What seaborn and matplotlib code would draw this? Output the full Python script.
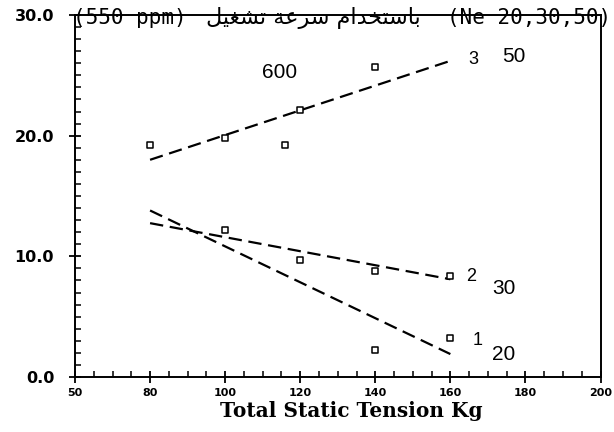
import numpy as np
import pandas as pd
import matplotlib
matplotlib.use("Agg")
import matplotlib.pyplot as plt
import seaborn as sns
from matplotlib.ticker import MultipleLocator, FixedLocator, FixedFormatter

# ---------------- data ----------------
# measured points (x = total static tension, y = value)
s3_x = [80, 100, 116, 120, 140]
s3_y = [19.2, 19.8, 19.2, 22.1, 25.7]
s2_x = [100, 120, 140, 160]
s2_y = [12.2, 9.7, 8.75, 8.4]
s1_x = [140, 160]
s1_y = [2.25, 3.2]

# trend lines (end points)
fit_x = [80, 160]
fit3_y = [18.0, 26.2]
fit2_y = [12.75, 8.1]
fit1_y = [13.8, 1.9]

curve_ids = ["3", "2", "1"]
curve_ne = ["50", "30", "20"]

x_tick_pos = [60, 80, 100, 120, 140, 160, 180, 200]
x_tick_labels = ["50", "80", "100", "120", "140", "160", "180", "200"]
y_tick_pos = [0, 10, 20, 30]
y_tick_labels = ["0.0", "10.0", "20.0", "30.0"]

x_label = "Total Static Tension Kg"
title_left = "(550 ppm)"
title_right = "(Ne 20,30,50)"
title_arabic_words = ["باستخدام", "سرعة", "تشغيل"]
speed_label = "600"

# ---------------- arabic shaping (matplotlib has no bidi/shaping engine) ----------------
AR_FORMS = {
    'ا': ('\uFE8D', '\uFE8E', None, None),
    'ب': ('\uFE8F', '\uFE90', '\uFE91', '\uFE92'),
    'ة': ('\uFE93', '\uFE94', None, None),
    'ت': ('\uFE95', '\uFE96', '\uFE97', '\uFE98'),
    'خ': ('\uFEA5', '\uFEA6', '\uFEA7', '\uFEA8'),
    'د': ('\uFEA9', '\uFEAA', None, None),
    'ر': ('\uFEAD', '\uFEAE', None, None),
    'س': ('\uFEB1', '\uFEB2', '\uFEB3', '\uFEB4'),
    'ش': ('\uFEB5', '\uFEB6', '\uFEB7', '\uFEB8'),
    'ع': ('\uFEC9', '\uFECA', '\uFECB', '\uFECC'),
    'غ': ('\uFECD', '\uFECE', '\uFECF', '\uFED0'),
    'ل': ('\uFEDD', '\uFEDE', '\uFEDF', '\uFEE0'),
    'م': ('\uFEE1', '\uFEE2', '\uFEE3', '\uFEE4'),
    'ي': ('\uFEF1', '\uFEF2', '\uFEF3', '\uFEF4'),
}


def shape(word):
    out = []
    for i, c in enumerate(word):
        f = AR_FORMS.get(c)
        if f is None:
            out.append(c)
            continue
        prev = word[i - 1] if i > 0 else None
        nxt = word[i + 1] if i + 1 < len(word) else None
        jp = prev is not None and prev in AR_FORMS and AR_FORMS[prev][2] is not None
        jn = nxt is not None and nxt in AR_FORMS and f[2] is not None
        if jp and jn:
            g = f[3]
        elif jp:
            g = f[1]
        elif jn:
            g = f[2]
        else:
            g = f[0]
        out.append(g)
    return "".join(reversed(out))


arabic_visual = " ".join(shape(w) for w in reversed(title_arabic_words))

# ---------------- frames ----------------
pts = pd.DataFrame({
    "x": s3_x + s2_x + s1_x,
    "y": s3_y + s2_y + s1_y,
    "curve": ["3"] * len(s3_x) + ["2"] * len(s2_x) + ["1"] * len(s1_x),
})
fits = pd.DataFrame({
    "x": fit_x * 3,
    "y": fit3_y + fit2_y + fit1_y,
    "curve": ["3"] * 2 + ["2"] * 2 + ["1"] * 2,
})

# ---------------- plot ----------------
sns.set_theme(style="ticks")
plt.rcParams["font.family"] = ["DejaVu Sans"]

W, H = 614, 432
fig = plt.figure(figsize=(W / 100, H / 100), dpi=100)
ax = fig.add_axes([75 / W, 1 - 377 / H, (600.5 - 75) / W, (377 - 15) / H])

sns.lineplot(data=fits, x="x", y="y", units="curve", estimator=None,
             color="black", lw=1.6, ax=ax, legend=False,
             linestyle=(0, (6, 3)))
sns.scatterplot(data=pts, x="x", y="y", marker="s", s=18,
                facecolor="white", edgecolor="black", linewidth=1.1,
                ax=ax, legend=False, zorder=3)

ax.set_xlim(60, 200)
ax.set_ylim(0, 30)

ax.xaxis.set_major_locator(FixedLocator(x_tick_pos))
ax.xaxis.set_major_formatter(FixedFormatter(x_tick_labels))
ax.xaxis.set_minor_locator(MultipleLocator(5))
ax.yaxis.set_major_locator(FixedLocator(y_tick_pos))
ax.yaxis.set_major_formatter(FixedFormatter(y_tick_labels))
ax.yaxis.set_minor_locator(MultipleLocator(1))

ax.tick_params(axis="both", which="major", direction="inout", length=8,
               width=1.3, color="black")
ax.tick_params(axis="both", which="minor", direction="in", length=4.5,
               width=1.1, color="black")
ax.tick_params(axis="x", which="major", labelsize=8, pad=4)
ax.tick_params(axis="y", which="major", labelsize=11.5, pad=11)
for lab in ax.get_xticklabels() + ax.get_yticklabels():
    lab.set_fontweight("bold")
    lab.set_color("black")

for sp in ax.spines.values():
    sp.set_visible(True)
    sp.set_color("black")
    sp.set_linewidth(1.4)

ax.set_xlabel(x_label, fontsize=14.5, fontweight="bold",
              family="DejaVu Serif", labelpad=2, color="black", x=0.525)
ax.set_ylabel("")

# curve labels
ann_font = dict(family="Liberation Sans", color="black", va="center", ha="left")
label_pos_id = [(164.7, 26.3), (164.2, 8.3), (165.8, 3.0)]
label_pos_ne = [(173.7, 26.6), (171.1, 7.3), (171.1, 1.9)]
for cid, ne, p1, p2 in zip(curve_ids, curve_ne, label_pos_id, label_pos_ne):
    ax.text(p1[0], p1[1], cid, fontsize=13, **ann_font)
    ax.text(p2[0], p2[1], ne, fontsize=15, **ann_font)
ax.text(109.8, 25.25, speed_label, fontsize=15, **ann_font)

# title across the top frame
ty = 1 - 18 / H
fig.text(73 / W, ty, title_left, family=["DejaVu Sans Mono", "DejaVu Sans"],
         fontsize=15, color="black", va="center", ha="left")
fig.text(313 / W, ty, arabic_visual, family=["DejaVu Sans"],
         fontsize=16, color="black", va="center", ha="center")
fig.text(611 / W, ty, title_right, family=["DejaVu Sans Mono", "DejaVu Sans"],
         fontsize=15, color="black", va="center", ha="right")

fig.savefig("out.png", dpi=100, facecolor="white")
